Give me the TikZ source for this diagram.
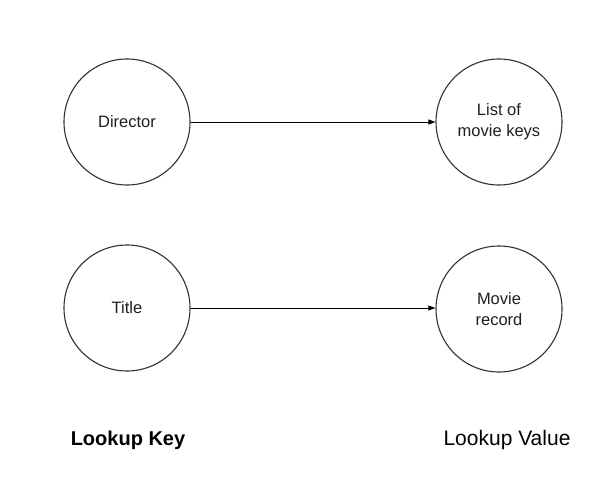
\documentclass[tikz,border=0pt]{standalone}
\usepackage{fontspec}
\setmainfont{Liberation Sans}
\usetikzlibrary{arrows.meta}
\begin{document}
\begin{tikzpicture}[x=1pt,y=-1pt,
  circ/.style={circle,draw=black!80,line width=1.1pt,minimum size=126pt,inner sep=0pt,align=center,font=\fontsize{16.5}{20.7}\selectfont,text=black!88},
  conn/.style={-{Triangle[length=7pt,width=5pt]},line width=0.9pt,black},
  lbl/.style={font=\fontsize{21}{24}\selectfont,text=black}]
\useasboundingbox (0,0) rectangle (612,500);
\node[circ] (dir) at (127,122) {Director};
\node[circ] (list) at (499,122) {List of\\movie keys};
\node[circ] (title) at (127,308) {Title};
\node[circ] (rec) at (499,309) {Movie\\record};
\draw[conn] (dir) -- (list);
\draw[conn] (title.east) -- (rec.west |- title.east);
\node[lbl,font=\fontsize{20}{24}\selectfont\bfseries] (key) at (128,440) {Lookup Key};
\node[lbl] (val) at (507,440) {Lookup Value};
\end{tikzpicture}
\end{document}
